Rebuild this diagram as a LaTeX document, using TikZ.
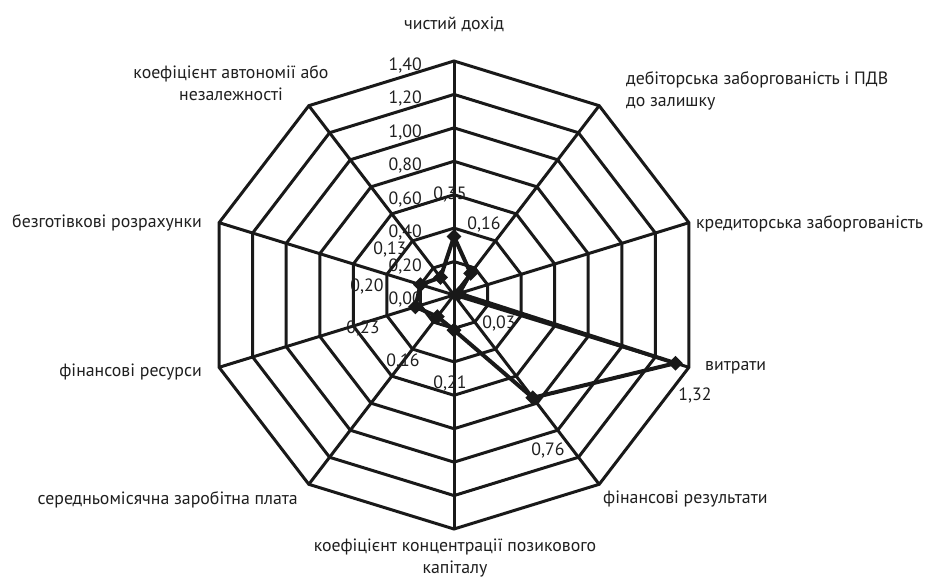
\documentclass[tikz,border=0pt]{standalone}
\usepackage{fontspec}
\setmainfont{PT Sans}
\usetikzlibrary{shapes.geometric}
\begin{document}
\begin{tikzpicture}[x=1pt,y=-1pt, font=\fontsize{17.8}{22}\selectfont,
 grid/.style={line width=3pt, line join=miter, draw=black!90},
 dataline/.style={line width=4pt, line join=round, draw=black!90},
 marker/.style={diamond, fill=black!90, inner sep=0pt, minimum size=15pt},
 lbl/.style={inner sep=0pt, text=black!88, yshift=-2.5pt}]
\path[use as bounding box, fill=white] (0,0) rectangle (928,580);
\begin{scope}[shift={(454,295)}, x=176.43pt, y=167.14pt]
  \coordinate (c) at (0,0);
  \foreach \i in {1,...,7}{
    \foreach \k in {0,...,9}{
      \coordinate (r\i-\k) at ({90-36*\k}:{0.2*\i});
    }
  }
  \foreach \i in {1,...,7}{
    \draw[grid] (r\i-0) -- (r\i-1) -- (r\i-2) -- (r\i-3) -- (r\i-4) -- (r\i-5) -- (r\i-6) -- (r\i-7) -- (r\i-8) -- (r\i-9) -- cycle;
  }
  \foreach \k in {0,...,9}{
    \draw[grid] (c) -- (r7-\k);
  }
  \foreach \v [count=\k from 0] in {0.35,0.16,0.03,1.32,0.76,0.21,0.16,0.23,0.20,0.13}{
    \coordinate (p\k) at ({90-36*\k}:\v);
  }
\end{scope}
% ring labels
\foreach \v/\t in {1.4/{1,40},1.2/{1,20},1.0/{1,00},0.8/{0,80},0.6/{0,60},0.4/{0,40},0.2/{0,20},0.0/{0,00}}{
  \node[lbl, anchor=east] (ring\v) at (422,{297-167.14*\v}) {\t};
}
% data polygon
\draw[dataline] (p0) -- (p1) -- (p2) -- (p3) -- (p4) -- (p5) -- (p6) -- (p7) -- (p8) -- (p9) -- cycle;
\foreach \k in {0,...,9}{
  \node[marker] (m\k) at (p\k) {};
}
% data labels
\node[lbl] (v0) at (450,192) {0,35};
\node[lbl] (v1) at (484,222) {0,16};
\node[lbl] (v2) at (499,321) {0,03};
\node[lbl] (v3) at (695,393) {1,32};
\node[lbl] (v4) at (548,448) {0,76};
\node[lbl] (v5) at (450,381) {0,21};
\node[lbl] (v6) at (403,359) {0,16};
\node[lbl] (v7) at (363,326) {0,23};
\node[lbl] (v8) at (367,284) {0,20};
\node[lbl] (v9) at (390,247) {0,13};
% axis labels
\node[lbl] (a0) at (454,22) {чистий дохід};
\node[lbl, align=center] (a9) at (231,81) {коефіцієнт автономії або\\незалежності};
\node[lbl, align=left, anchor=west] (a1) at (626,88) {дебіторська заборгованість і ПДВ\\до залишку};
\node[lbl, anchor=west] (a2) at (696,221) {кредиторська заборгованість};
\node[lbl, anchor=west] (a3) at (705,365) {витрати};
\node[lbl, anchor=west] (a4) at (603,497) {фінансові результати};
\node[lbl, align=center] (a5) at (455,556) {коефіцієнт концентрації позикового\\капіталу};
\node[lbl, anchor=east] (a6) at (298,497) {середньомісячна заробітна плата};
\node[lbl, anchor=east] (a7) at (202,370) {фінансові ресурси};
\node[lbl, anchor=east] (a8) at (202,220) {безготівкові розрахунки};
\end{tikzpicture}
\end{document}
